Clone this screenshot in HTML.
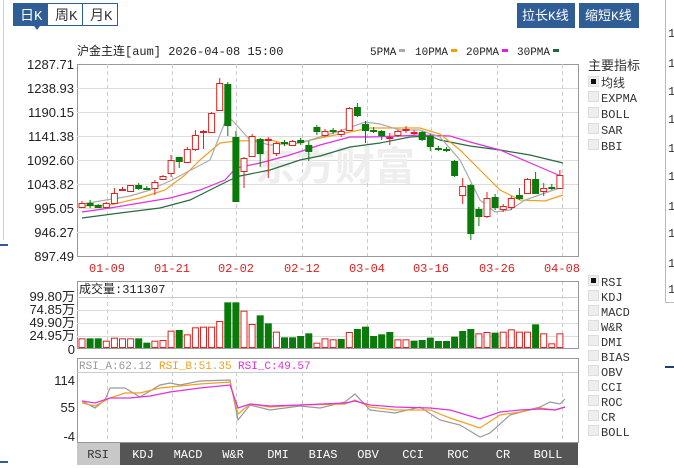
<!DOCTYPE html>
<html><head><meta charset="utf-8"><style>
html,body{margin:0;padding:0;background:#fff;width:674px;height:468px;overflow:hidden}
svg{display:block}
text{font-family:"Liberation Sans","Noto Sans CJK SC",sans-serif}
.m,.m text{font-family:"Liberation Mono","WenQuanYi Zen Hei","Noto Sans CJK SC",monospace}
</style></head><body>
<svg id="s" width="674" height="468" xmlns="http://www.w3.org/2000/svg">
<line x1="3.5" y1="0" x2="3.5" y2="240" stroke="#ccd" />
<line x1="0" y1="245" x2="8" y2="245" stroke="#2f5d95" stroke-width="2"/>
<line x1="0" y1="462" x2="8" y2="462" stroke="#2f5d95" stroke-width="2"/>
<rect x="13.5" y="3.5" width="104" height="22" fill="#fff" stroke="#2f5d95"/>
<rect x="13" y="3" width="35" height="23" fill="#2f5d95"/>
<polygon points="34,26 40,26 37,30" fill="#2f5d95"/>
<line x1="82.5" y1="3" x2="82.5" y2="26" stroke="#2f5d95"/>
<text x="20" y="20" font-size="14" fill="#fff" class="m">日K</text>
<text x="55" y="20" font-size="14" fill="#333" class="m">周K</text>
<text x="90" y="20" font-size="14" fill="#333" class="m">月K</text>
<rect x="517" y="3" width="58" height="25" fill="#2f5d95"/>
<rect x="579" y="3" width="60" height="25" fill="#2f5d95"/>
<text x="522" y="20" font-size="13" fill="#fff" class="m">拉长K线</text>
<text x="585" y="20" font-size="13" fill="#fff" class="m">缩短K线</text>
<line x1="665.5" y1="0" x2="665.5" y2="302" stroke="#bbb"/>
<line x1="665" y1="302.5" x2="674" y2="302.5" stroke="#bbb"/>
<line x1="665" y1="367" x2="674" y2="367" stroke="#1f3f6f" stroke-width="2"/>
<g font-size="12" fill="#333" class="m" id="rc"></g>
<text x="77" y="55" font-size="12" class="m" fill="#222">沪金主连[aum] 2026-04-08 15:00</text>
<text x="370" y="55" font-size="11" class="m" fill="#222">5PMA</text><rect x="399" y="49" width="6" height="3" fill="#aaa"/>
<text x="415" y="55" font-size="11" class="m" fill="#222">10PMA</text><rect x="451" y="49" width="6" height="3" fill="#f0a000"/>
<text x="466" y="55" font-size="11" class="m" fill="#222">20PMA</text><rect x="502" y="49" width="6" height="3" fill="#e020e0"/>
<text x="517" y="55" font-size="11" class="m" fill="#222">30PMA</text><rect x="553" y="49" width="6" height="3" fill="#1a6a3a"/>
<g id="main"></g>
<g id="vol"></g>
<g id="rsi"></g>
<g id="side" font-size="12" class="m" fill="#333"></g>
</svg>
<script>
const NS="http://www.w3.org/2000/svg";
function el(p,t,a,txt){const e=document.createElementNS(NS,t);for(const k in a)e.setAttribute(k,a[k]);if(txt!==undefined)e.textContent=txt;p.appendChild(e);return e;}
const X=i=>82+8.1*i;
const main=document.getElementById('main');
const L=77,R=578,T=64,B=256;
el(main,'rect',{x:L+.5,y:T+.5,width:R-L,height:B-T,fill:'#fff',stroke:'#999'});
const yl=["1287.71","1238.93","1190.15","1141.38","1092.60","1043.82","995.05","946.27","897.49"];
yl.forEach((t,k)=>{const y=64+k*24;if(k>0&&k<8)el(main,'line',{x1:L,y1:y+.5,x2:R,y2:y+.5,stroke:'#ddd'});
 el(main,'text',{x:74,y:y+5,'font-size':13,'text-anchor':'end',fill:'#222'},t);});
const xd=[["01-09",107],["01-21",172],["02-02",236],["02-12",302],["03-04",367],["03-16",431],["03-26",497],["04-08",562]];
xd.forEach(([t,x])=>{el(main,'line',{x1:x+.5,y1:T,x2:x+.5,y2:B,stroke:'#ccc','stroke-dasharray':'4,3'});
 el(main,'line',{x1:x+.5,y1:281,x2:x+.5,y2:348,stroke:'#ccc','stroke-dasharray':'4,3'});
 el(main,'line',{x1:x+.5,y1:372,x2:x+.5,y2:442,stroke:'#ccc','stroke-dasharray':'4,3'});
 el(main,'text',{x:x,y:272,'font-size':12,'text-anchor':'middle',fill:'#e02020',class:'m'},t);});
el(main,'text',{x:255,y:180,'font-size':40,fill:'#eee','font-weight':'bold'},'东方财富');
const C=[['r',203,207,201,208],['g',203,205,200,208],['g',205,207,204,208],['r',203,207,202,208],['r',193,203,188,204],['r',189,190,187,190],['r',185,191,185,191],['g',185,188,183,190],['g',188,189,186,190],['r',182,188,180,195],['r',176,179,175,180],['r',160,173,155,177],['g',157,161,157,168],['r',149,162,147,163],['r',135,149,130,151],['r',131,132,130,149],['r',113,132,112,133],['r',83,110,78,111],['g',84,125,82,136],['g',137,201,131,202],['r',158,171,157,188],['r',136,156,134,157],['g',139,153,138,167],['r',139,140,137,178],['r',143,153,142,156],['g',142,143,140,146],['r',141,145,140,146],['g',140,142,138,145],['g',145,151,141,161],['g',127,131,125,135],['r',131,135,129,137],['g',130,131,128,134],['r',131,134,129,137],['r',108,130,107,131],['g',107,115,103,117],['g',124,130,121,143],['g',130,131,127,133],['g',131,135,130,140],['r',137,138,133,145],['r',131,135,130,137],['r',129,130,126,133],['r',132,133,130,135],['g',132,139,131,141],['g',136,146,134,151],['g',148,149,146,151],['g',149,150,147,152],['g',161,175,160,177],['r',186,195,178,204],['g',185,233,184,240],['g',209,216,207,226],['r',198,216,192,218],['g',197,207,194,210],['r',206,209,204,212],['r',198,207,196,210],['g',195,198,188,200],['r',179,193,178,194],['g',179,193,172,194],['r',188,191,183,196],['g',187,188,184,190],['r',175,188,170,189]];
function pl(g,pts,c){el(g,'polyline',{points:pts.map(p=>p.join(',')).join(' '),fill:'none',stroke:c,'stroke-width':1.2});}
pl(main,[[82,218],[120,213],[160,208],[190,200],[210,190],[230,180],[240,176],[270,170],[300,160],[320,156],[350,147],[380,143],[410,137],[430,136],[440,140],[470,146],[500,150],[530,155],[563,163]],'#2a6a40');
pl(main,[[82,212],[110,208],[140,203],[170,198],[200,190],[225,180],[236,168],[260,163],[290,155],[320,145],[350,137],[370,137],[400,136],[420,135],[450,136],[470,142],[500,150],[535,165],[563,177]],'#e030e0');
pl(main,[[82,206],[110,205],[140,198],[165,190],[185,175],[200,160],[220,143],[236,141],[270,140],[290,145],[320,138],[340,134],[370,128],[400,128],[420,128],[440,134],[460,150],[480,170],[500,190],[520,200],[545,201],[563,195]],'#f0a020');
pl(main,[[82,204],[130,196],[150,190],[172,180],[210,160],[225,122],[232,120],[250,140],[270,145],[300,143],[320,137],[340,131],[365,122],[380,124],[400,130],[420,130],[440,137],[460,160],[480,200],[495,212],[510,210],[525,200],[545,193],[563,187]],'#aaa');
C.forEach((c,i)=>{const x=X(i),col=c[0]=='r'?'#e02020':'#0a7a0a';
 el(main,'line',{x1:x,y1:c[3],x2:x,y2:c[4],stroke:col});
 const h=Math.max(1,c[2]-c[1]);
 if(c[0]=='r')el(main,'rect',{x:x-3,y:c[1]+.5,width:6,height:h,fill:'#fff',stroke:col});
 else el(main,'rect',{x:x-3.5,y:c[1],width:7,height:h+1,fill:col});});
const vol=document.getElementById('vol');
el(vol,'rect',{x:L+.5,y:281.5,width:R-L,height:67,fill:'none',stroke:'#999'});
el(vol,'line',{x1:L,y1:297.5,x2:R,y2:297.5,stroke:'#ccc'});
[310,323,336].forEach(y=>el(vol,'line',{x1:L,y1:y+.5,x2:R,y2:y+.5,stroke:'#ddd'}));
el(vol,'text',{x:79,y:293,'font-size':12,fill:'#222',class:'m'},'成交量:311307');
[["99.80万",297],["74.85万",310],["49.90万",323],["24.95万",336],["0",350]].forEach(([t,y])=>el(vol,'text',{x:75,y:y+4,'font-size':13,'text-anchor':'end',fill:'#222'},t));
const V="r205 g205 g205 r212 r203 r205 r205 g205 g218 r212 r210 r182 g180 r193 r172 r170 r170 r153 g97 g97 r122 r162 g136 g160 r185 g202 g202 g198 g190 r218 r205 r208 g207 r186 g177 g170 g198 g193 g186 r208 r208 g212 g210 g203 g213 g213 g200 g183 g177 r190 r186 g188 r185 r178 r185 r185 g163 r190 r220 r190".split(' ');
V.forEach((v,i)=>{const y=270+(+v.slice(1))/3,x=X(i),h=348-y;
 if(v[0]=='r')el(vol,'rect',{x:x-3,y:y+.5,width:6,height:h-1,fill:'#fff',stroke:'#e02020'});
 else el(vol,'rect',{x:x-3.5,y:y,width:7,height:h,fill:'#0a7a0a'});});
const rsi=document.getElementById('rsi');
el(rsi,'rect',{x:L+.5,y:358.5,width:R-L,height:84,fill:'none',stroke:'#999'});
el(rsi,'line',{x1:L,y1:372.5,x2:R,y2:372.5,stroke:'#ccc'});
el(rsi,'text',{x:79,y:369,'font-size':11,fill:'#999',class:'m'},'RSI_A:62.12');
el(rsi,'text',{x:159,y:369,'font-size':11,fill:'#f0a020',class:'m'},'RSI_B:51.35');
el(rsi,'text',{x:238,y:369,'font-size':11,fill:'#e030e0',class:'m'},'RSI_C:49.57');
[["114",380],["55",407],["-4",436]].forEach(([t,y])=>el(rsi,'text',{x:75,y:y+5,'font-size':13,'text-anchor':'end',fill:'#222'},t));
pl(rsi,[[82,401],[95,408],[105,400],[110,388],[125,388],[140,397],[160,385],[170,383],[180,385],[200,381],[230,380],[238,420],[250,405],[270,410],[300,406],[320,408],[345,402],[355,394],[370,410],[395,413],[420,407],[440,420],[460,425],[480,437],[490,433],[510,415],[540,407],[550,402],[560,404],[565,399]],'#999');
pl(rsi,[[82,403],[95,406],[110,398],[125,393],[140,393],[160,388],[180,386],[200,384],[230,382],[238,414],[250,404],[270,407],[300,405],[345,404],[355,400],[370,407],[395,410],[430,410],[450,418],[480,428],[500,415],[520,412],[540,408],[555,410],[565,407]],'#f0a020');
pl(rsi,[[82,401],[95,403],[110,398],[130,398],[150,396],[170,392],[200,388],[230,385],[238,408],[250,404],[270,406],[300,405],[345,403],[355,401],[370,405],[395,407],[430,408],[450,410],[480,419],[500,412],[520,410],[540,409],[555,410],[565,407]],'#e030e0');
el(rsi,'rect',{x:77,y:443,width:501,height:22,fill:'#555'});
el(rsi,'rect',{x:77,y:443,width:43,height:22,fill:'#c8c8c8'});
[["RSI",98],["KDJ",143],["MACD",188],["W&R",233],["DMI",278],["BIAS",323],["OBV",368],["CCI",413],["ROC",458],["CR",503],["BOLL",548]].forEach(([t,x],k)=>el(rsi,'text',{x:x,y:458,'font-size':12,'text-anchor':'middle',fill:k?'#fff':'#333',class:'m'},t));
const side=document.getElementById('side');
el(side,'text',{x:588,y:70,'font-size':13},'主要指标');
function cb(y,t,on){el(side,'rect',{x:588.5,y:y-8.5,width:10,height:10,fill:'#eee',stroke:'#ddd'});if(on)el(side,'rect',{x:591,y:y-6,width:5,height:5,fill:'#111'});el(side,'text',{x:601,y:y+2},t);}
cb(85,'均线',1);[['EXPMA',100],['BOLL',116],['SAR',132],['BBI',148]].forEach(([t,y])=>cb(y,t));
['RSI','KDJ','MACD','W&R','DMI','BIAS','OBV','CCI','ROC','CR','BOLL'].forEach((t,k)=>cb(284+k*15,t,k==0));
const rc=document.getElementById('rc');
[32,62,90,118,147,175,205,232,262,288].forEach(y=>el(rc,'text',{x:668,y:y+5},'1'));
</script>
</body></html>
